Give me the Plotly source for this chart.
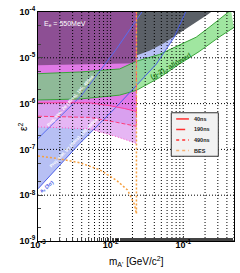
import numpy as np
import plotly.graph_objects as go

# ---------------- data ----------------
x_ticks = [1e-3, 1e-2, 1e-1]
x_tick_text = ["10<sup>-3</sup>", "10<sup>-2</sup>", "10<sup>-1</sup>"]
y_ticks = [1e-9, 1e-8, 1e-7, 1e-6, 1e-5, 1e-4]
y_tick_text = ["10<sup>-9</sup>", "10<sup>-8</sup>", "10<sup>-7</sup>", "10<sup>-6</sup>", "10<sup>-5</sup>", "10<sup>-4</sup>"]

m_left = [1.0e-3, 3.76e-3, 1.33e-2, 2.27e-2]
purple_low = [6.9e-6, 7.3e-6, 7.6e-6, 7.6e-6]

m_40 = [1.0e-3, 5.15e-3, 9.7e-3, 1.56e-2, 2.27e-2]
eps_40 = [1.04e-6, 1.04e-6, 9.0e-7, 7.8e-7, 6.7e-7]
m_190 = [1.0e-3, 5.15e-3, 1.21e-2, 2.27e-2]
eps_190 = [5.3e-7, 5.0e-7, 3.9e-7, 3.2e-7]
m_490 = [1.0e-3, 5.15e-3, 1.21e-2, 2.27e-2]
eps_490 = [3.1e-7, 2.8e-7, 1.9e-7, 1.35e-7]

m_bes = [1.0e-3, 2.0e-3, 3.76e-3, 7.06e-3, 1.21e-2, 1.71e-2, 2.13e-2, 2.27e-2, 2.27e-2]
eps_bes = [7.2e-8, 6.2e-8, 5.1e-8, 3.6e-8, 2.1e-8, 1.3e-8, 6.3e-9, 3.9e-9, 1e-4]

m_ae = [1.0e-3, 3.76e-3, 1.21e-2, 4.27e-2, 7.5e-2, 0.114]
eps_ae = [1.38e-8, 1.35e-7, 8.6e-7, 7.3e-6, 2.8e-5, 1.2e-4]

m_amu = [1.0e-3, 4.0e-3, 1.21e-2, 2.92e-2]
eps_amu = [1.72e-7, 1.53e-6, 1.58e-5, 1.2e-4]

m_grey = [2.27e-2, 3.42e-2, 5.49e-2, 8.81e-2, 0.1415, 0.213, 0.283]
eps_grey = [1.12e-5, 1.43e-5, 2.11e-5, 3.43e-5, 5.58e-5, 8.6e-5, 1.2e-4]

m_g2_top = [1.0e-3, 3.76e-3, 1.33e-2, 2.27e-2, 4.69e-2, 8.81e-2, 0.151, 0.227, 0.311, 0.455]
eps_g2_top = [4.5e-6, 4.9e-6, 5.7e-6, 8.4e-6, 1.18e-5, 1.92e-5, 2.82e-5, 4.6e-5, 6.8e-5, 1.1e-4]
m_g2_bot = [1.0e-3, 3.76e-3, 1.33e-2, 2.27e-2, 4.69e-2, 8.81e-2, 0.166, 0.311, 0.5]
eps_g2_bot = [1.2e-6, 1.26e-6, 1.53e-6, 1.95e-6, 3.67e-6, 7.26e-6, 1.37e-5, 2.82e-5, 4.6e-5]

X_MIN, X_MAX = 1e-3, 0.501
Y_MIN, Y_MAX = 1e-9, 1e-4
M_LIM = 2.27e-2  # kinematic limit (vertical line)

fig = go.Figure()

def poly(xs, ys, color, line=None):
    fig.add_trace(go.Scatter(x=xs, y=ys, mode="lines", fill="toself", fillcolor=color,
                             line=line or dict(width=0), hoverinfo="skip", showlegend=False))

# a_e excluded (light blue), above the a_e line
poly(m_ae + [X_MAX, X_MAX, X_MIN], eps_ae + [Y_MAX, Y_MAX, Y_MAX], "#b7c0f4")

# pink regions (left of the kinematic limit)
poly(m_490 + [m_490[-1], m_490[0]], eps_490 + [Y_MAX, Y_MAX], "#e6b6f4")
poly(m_190 + [m_190[-1], m_190[0]], eps_190 + [Y_MAX, Y_MAX], "#d9a0ef")
poly(m_40 + [m_40[-1], m_40[0]], eps_40 + [Y_MAX, Y_MAX], "#e07ae6")
# dark purple
poly(m_left + [m_left[-1], m_left[0]], purple_low + [Y_MAX, Y_MAX], "#8d4f94")

# dark grey
poly(m_grey + [m_grey[0]], eps_grey + [Y_MAX], "#5b6067")

# green (g-2) band: left part over the pink regions, right part over white
iL_top = [i for i, v in enumerate(m_g2_top) if v <= M_LIM]
iL_bot = [i for i, v in enumerate(m_g2_bot) if v <= M_LIM]
poly([m_g2_top[i] for i in iL_top] + [m_g2_bot[i] for i in iL_bot][::-1],
     [eps_g2_top[i] for i in iL_top] + [eps_g2_bot[i] for i in iL_bot][::-1], "#8fba98")
iR_top = [i for i, v in enumerate(m_g2_top) if v >= M_LIM]
iR_bot = [i for i, v in enumerate(m_g2_bot) if v >= M_LIM]
poly([m_g2_top[i] for i in iR_top] + [m_g2_bot[i] for i in iR_bot][::-1],
     [eps_g2_top[i] for i in iR_top] + [eps_g2_bot[i] for i in iR_bot][::-1], "rgba(120,220,120,0.7)")
fig.add_trace(go.Scatter(x=m_g2_top, y=eps_g2_top, mode="lines", line=dict(color="#3aa53a", width=1),
                         hoverinfo="skip", showlegend=False))
fig.add_trace(go.Scatter(x=m_g2_bot, y=eps_g2_bot, mode="lines", line=dict(color="#3aa53a", width=1),
                         hoverinfo="skip", showlegend=False))

# grid (dotted, over the regions)
gx, gy = [], []
for n in range(-3, 0):
    for k in range(1, 10):
        v = k * 10.0 ** n
        if X_MIN < v < X_MAX:
            gx += [v, v, None]
            gy += [Y_MIN, Y_MAX, None]
for v in y_ticks[1:-1]:
    gx += [X_MIN, X_MAX, None]
    gy += [v, v, None]
fig.add_trace(go.Scatter(x=gx, y=gy, mode="lines", line=dict(color="black", width=1, dash="1px,2px"),
                         hoverinfo="skip", showlegend=False))

# lines
fig.add_trace(go.Scatter(x=m_ae, y=eps_ae, mode="lines", line=dict(color="#4a5ee8", width=1), showlegend=False))
fig.add_trace(go.Scatter(x=m_amu, y=eps_amu, mode="lines", line=dict(color="#5a6cf0", width=1), showlegend=False))
fig.add_trace(go.Scatter(x=m_40, y=eps_40, mode="lines",
                         line=dict(color="#ff3c9a", width=1), showlegend=False))
fig.add_trace(go.Scatter(x=m_190 + [m_190[-1]], y=eps_190 + [Y_MAX], mode="lines",
                         line=dict(color="#ff3c7a", width=1, dash="4px,2px"), showlegend=False))
fig.add_trace(go.Scatter(x=m_490, y=eps_490, mode="lines",
                         line=dict(color="#ff55c0", width=1, dash="1px,2px"), showlegend=False))
fig.add_trace(go.Scatter(x=m_bes, y=eps_bes, mode="lines",
                         line=dict(color="#f6a040", width=1.5, dash="2px,2px"), showlegend=False))

# ---------------- annotations ----------------
ann = []
ann.append(dict(x=np.log10(2.34e-3), y=np.log10(5.6e-5), text="E<sub>e</sub> = 550MeV", showarrow=False,
                font=dict(color="white", size=7, family="Liberation Sans")))
ann.append(dict(x=np.log10(6.9e-2), y=np.log10(6.6e-6), text="<b>(g-2)<sub>μ</sub> allowed</b>", showarrow=False,
                textangle=-30, font=dict(color="#2a8a2a", size=7, family="Liberation Sans")))
ann.append(dict(x=np.log10(2.83e-3), y=np.log10(1.15e-6), text="<b>Proj. stat. 2σ (40ns), 190, 490ns</b>",
                showarrow=False, textangle=-48, font=dict(color="white", size=4.5, family="Liberation Sans")))
ann.append(dict(x=np.log10(3.11e-3), y=np.log10(1.42e-7), text="<b>Proj. stat. 5σ (40ns), 190, 490ns</b>",
                showarrow=False, textangle=-46, font=dict(color="white", size=4.5, family="Liberation Sans")))
ann.append(dict(x=np.log10(1.33e-3), y=np.log10(1.52e-8), text="<b>a<sub>e</sub> (3σ)</b>", showarrow=False,
                textangle=-38, font=dict(color="#3c50e6", size=5, family="Liberation Sans")))

# legend (manual)
shapes = [dict(type="rect", xref="paper", yref="paper", x0=0.68, x1=0.92, y0=0.37, y1=0.56,
               fillcolor="#f2f2f2", line=dict(color="#333", width=1), layer="above")]
leg = [("40ns", "#ff3030", "solid"), ("190ns", "#ff3030", "dash"), ("490ns", "#ff3030", "dot"), ("BES", "#f6b070", "dot")]
for i, (lab, col, dsh) in enumerate(leg):
    yy = 0.533 - i * 0.046
    shapes.append(dict(type="line", xref="paper", yref="paper", x0=0.705, x1=0.77, y0=yy, y1=yy,
                       line=dict(color=col, width=1.5, dash=dsh), layer="above"))
    ann.append(dict(xref="paper", yref="paper", x=0.785, y=yy, text="<b>" + lab + "</b>", xanchor="left",
                    showarrow=False, font=dict(size=5.5, color="#222", family="Liberation Sans")))

ann.append(dict(xref="paper", yref="paper", x=0.5, y=-0.089, text="m<sub>A'</sub> [GeV/c<sup>2</sup>]",
                showarrow=False, yanchor="middle", font=dict(size=10, color="black", family="Liberation Sans")))
ann.append(dict(xref="paper", yref="paper", x=-0.12, y=0.5, text="ε<sup>2</sup>", textangle=-90,
                showarrow=False, font=dict(size=10, color="black", family="Liberation Sans")))

fig.update_layout(
    width=240, height=273, margin=dict(l=38, r=5, t=5, b=32),
    paper_bgcolor="white", plot_bgcolor="white",
    annotations=ann, shapes=shapes, showlegend=False,
)
fig.update_xaxes(type="log", range=[np.log10(X_MIN), np.log10(X_MAX)], tickvals=x_ticks,
                 ticktext=["<b>%s</b>" % t for t in x_tick_text], ticks="inside", ticklen=5,
                 ticklabelstandoff=-5, ticklabeloverflow="allow",
                 minor=dict(ticks="inside", ticklen=3), showgrid=False, showline=True, linecolor="black",
                 linewidth=1, mirror=True, tickfont=dict(size=9, family="Liberation Sans", color="black"), zeroline=False)
fig.update_yaxes(type="log", range=[np.log10(Y_MIN), np.log10(Y_MAX)], tickvals=y_ticks,
                 ticktext=["<b>%s</b>" % t for t in y_tick_text], ticks="inside", ticklen=5,
                 ticklabeloverflow="allow",
                 minor=dict(ticks="inside", ticklen=3), showgrid=False, showline=True, linecolor="black",
                 linewidth=1, mirror=True, tickfont=dict(size=9, family="Liberation Sans", color="black"), zeroline=False)

fig.write_html("out.html", config={"displayModeBar": False},
               post_script="document.body.style.margin='0';document.body.style.overflow='hidden';")
